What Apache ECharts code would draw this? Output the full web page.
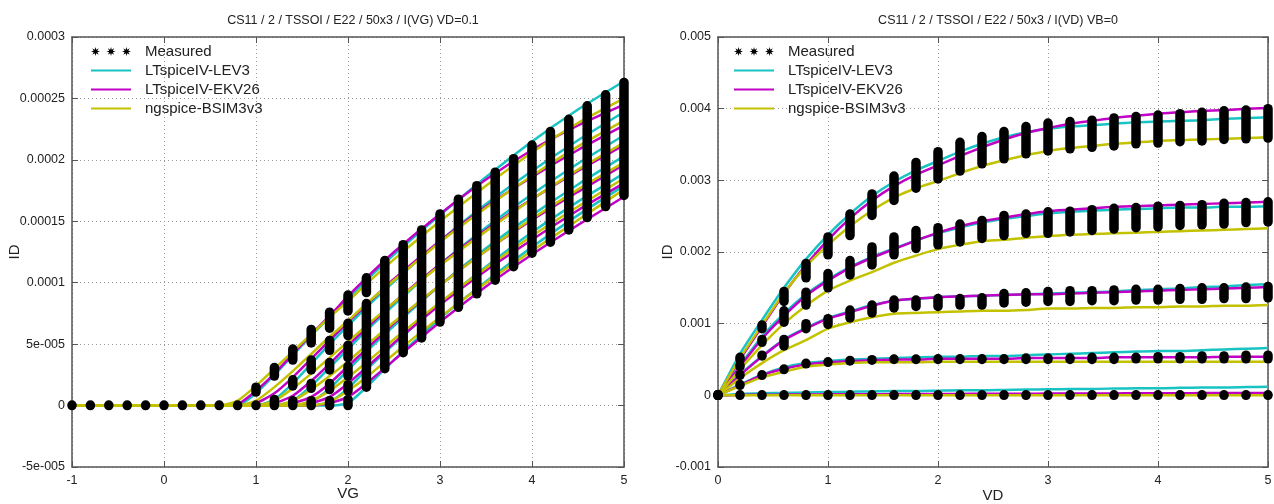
<!DOCTYPE html>
<html>
<head>
<meta charset="utf-8">
<script src="https://cdn.jsdelivr.net/npm/echarts@6/dist/echarts.min.js"></script>
<style>
html,body{margin:0;padding:0;background:#fff;}
#chart{width:1274px;height:504px;}
</style>
</head>
<body>
<div id="chart"></div>
<script>
// ---------------- DATA ----------------
const leftTitle = 'CS11 / 2 / TSSOI / E22 / 50x3 / I(VG) VD=0.1';
const rightTitle = 'CS11 / 2 / TSSOI / E22 / 50x3 / I(VD) VB=0';
const legendNames = ['Measured', 'LTspiceIV-LEV3', 'LTspiceIV-EKV26', 'ngspice-BSIM3v3'];

const leftYTicks = ['-5e-005', '0', '5e-005', '0.0001', '0.00015', '0.0002', '0.00025', '0.0003'];
const leftXTicks = ['-1', '0', '1', '2', '3', '4', '5'];
const rightYTicks = ['-0.001', '0', '0.001', '0.002', '0.003', '0.004', '0.005'];
const rightXTicks = ['0', '1', '2', '3', '4', '5'];

// Left chart: ID vs VG, model curves (6 body-bias steps per model)
const leftVG = [-1, 0.6, 0.8, 1.0, 1.2, 1.4, 1.6, 1.8, 2.0, 2.2, 2.5, 3.0, 3.5, 4.0, 4.5, 5.0];
const lev3VG = [
  [0, 0, 0, 1.0e-5, 2.5e-5, 4.1e-5, 5.7e-5, 7.2e-5, 8.7e-5, 1.02e-4, 1.23e-4, 1.55e-4, 1.86e-4, 2.15e-4, 2.41e-4, 2.64e-4],
  [0, 0, 0, 0, 0.5e-5, 1.8e-5, 3.4e-5, 5.0e-5, 6.5e-5, 8.0e-5, 1.01e-4, 1.34e-4, 1.64e-4, 1.91e-4, 2.16e-4, 2.39e-4],
  [0, 0, 0, 0, 0, 0.4e-5, 1.6e-5, 3.1e-5, 4.6e-5, 6.1e-5, 8.2e-5, 1.15e-4, 1.45e-4, 1.72e-4, 1.97e-4, 2.20e-4],
  [0, 0, 0, 0, 0, 0, 0.3e-5, 1.4e-5, 2.9e-5, 4.4e-5, 6.5e-5, 9.8e-5, 1.28e-4, 1.55e-4, 1.80e-4, 2.03e-4],
  [0, 0, 0, 0, 0, 0, 0, 0.3e-5, 1.4e-5, 2.9e-5, 5.0e-5, 8.3e-5, 1.13e-4, 1.41e-4, 1.66e-4, 1.89e-4],
  [0, 0, 0, 0, 0, 0, 0, 0, 0.2e-5, 1.5e-5, 3.7e-5, 7.1e-5, 1.01e-4, 1.29e-4, 1.55e-4, 1.79e-4]
];
const ekv26VG = [
  [0, 0, 0.1e-5, 1.2e-5, 2.6e-5, 4.2e-5, 5.8e-5, 7.3e-5, 8.9e-5, 1.04e-4, 1.25e-4, 1.56e-4, 1.84e-4, 2.08e-4, 2.28e-4, 2.45e-4],
  [0, 0, 0, 0.2e-5, 1.0e-5, 2.3e-5, 3.8e-5, 5.3e-5, 6.8e-5, 8.2e-5, 1.03e-4, 1.34e-4, 1.62e-4, 1.86e-4, 2.08e-4, 2.28e-4],
  [0, 0, 0, 0, 0.2e-5, 0.8e-5, 2.0e-5, 3.4e-5, 4.9e-5, 6.3e-5, 8.4e-5, 1.15e-4, 1.43e-4, 1.68e-4, 1.91e-4, 2.12e-4],
  [0, 0, 0, 0, 0, 0.2e-5, 0.7e-5, 1.8e-5, 3.2e-5, 4.6e-5, 6.7e-5, 9.8e-5, 1.26e-4, 1.51e-4, 1.74e-4, 1.96e-4],
  [0, 0, 0, 0, 0, 0, 0.2e-5, 0.7e-5, 1.8e-5, 3.1e-5, 5.1e-5, 8.2e-5, 1.10e-4, 1.35e-4, 1.59e-4, 1.81e-4],
  [0, 0, 0, 0, 0, 0, 0, 0.2e-5, 0.7e-5, 1.8e-5, 3.7e-5, 6.8e-5, 9.7e-5, 1.23e-4, 1.47e-4, 1.70e-4]
];
const bsim3VG = [
  [0, 0, 0.4e-5, 1.6e-5, 3.0e-5, 4.4e-5, 5.8e-5, 7.2e-5, 8.5e-5, 9.9e-5, 1.19e-4, 1.50e-4, 1.79e-4, 2.06e-4, 2.30e-4, 2.50e-4],
  [0, 0, 0, 0.4e-5, 1.5e-5, 2.8e-5, 4.2e-5, 5.6e-5, 6.9e-5, 8.3e-5, 1.02e-4, 1.33e-4, 1.61e-4, 1.87e-4, 2.11e-4, 2.32e-4],
  [0, 0, 0, 0, 0.4e-5, 1.4e-5, 2.6e-5, 3.9e-5, 5.2e-5, 6.5e-5, 8.4e-5, 1.14e-4, 1.42e-4, 1.68e-4, 1.92e-4, 2.14e-4],
  [0, 0, 0, 0, 0, 0.4e-5, 1.3e-5, 2.4e-5, 3.6e-5, 4.9e-5, 6.8e-5, 9.8e-5, 1.26e-4, 1.52e-4, 1.76e-4, 1.98e-4],
  [0, 0, 0, 0, 0, 0, 0.4e-5, 1.2e-5, 2.3e-5, 3.5e-5, 5.4e-5, 8.4e-5, 1.12e-4, 1.38e-4, 1.62e-4, 1.85e-4],
  [0, 0, 0, 0, 0, 0, 0, 0.3e-5, 1.2e-5, 2.3e-5, 4.2e-5, 7.2e-5, 1.00e-4, 1.26e-4, 1.51e-4, 1.76e-4]
];
// Left chart measured: [VG, low, high] clusters of measured points
const leftMeasured = [
  [-1.0, 0, 0], [-0.8, 0, 0], [-0.6, 0, 0], [-0.4, 0, 0], [-0.2, 0, 0],
  [0.0, 0, 0], [0.2, 0, 0], [0.4, 0, 0], [0.6, 0, 0], [0.8, 0, 0],
  [1.0, 0, 0], [1.0, 1.1e-5, 1.5e-5],
  [1.2, 0, 0.5e-5], [1.2, 2.4e-5, 3.1e-5],
  [1.4, 0, 0.4e-5], [1.4, 1.6e-5, 2.1e-5], [1.4, 3.7e-5, 4.6e-5],
  [1.6, 0, 0.4e-5], [1.6, 1.4e-5, 1.8e-5], [1.6, 2.9e-5, 3.7e-5], [1.6, 5.1e-5, 6.2e-5],
  [1.8, 0, 0.4e-5], [1.8, 1.3e-5, 1.8e-5], [1.8, 2.9e-5, 3.5e-5], [1.8, 4.5e-5, 5.3e-5], [1.8, 6.3e-5, 7.6e-5],
  [2.0, 0, 0.5e-5], [2.0, 1.2e-5, 1.7e-5], [2.0, 2.4e-5, 3.2e-5], [2.0, 3.9e-5, 4.9e-5], [2.0, 5.7e-5, 6.7e-5], [2.0, 7.7e-5, 9.0e-5],
  [2.2, 1.5e-5, 8.3e-5], [2.2, 9.2e-5, 1.04e-4],
  [2.4, 3.0e-5, 1.18e-4], [2.6, 4.3e-5, 1.31e-4], [2.8, 5.5e-5, 1.43e-4], [3.0, 6.8e-5, 1.56e-4],
  [3.2, 8.0e-5, 1.68e-4], [3.4, 9.1e-5, 1.79e-4], [3.6, 1.02e-4, 1.90e-4], [3.8, 1.13e-4, 2.01e-4],
  [4.0, 1.24e-4, 2.12e-4], [4.2, 1.33e-4, 2.23e-4], [4.4, 1.43e-4, 2.33e-4], [4.6, 1.53e-4, 2.44e-4],
  [4.8, 1.62e-4, 2.53e-4], [5.0, 1.71e-4, 2.63e-4]
];

// Right chart: ID vs VD, 5 gate-voltage steps (top ... bottom)
const rightVD = [0, 0.2, 0.4, 0.6, 0.8, 1.0, 1.2, 1.4, 1.6, 1.8, 2.0, 2.2, 2.4, 2.6, 2.8, 3.0, 3.2, 3.4, 3.6, 3.8, 4.0, 4.2, 4.4, 4.6, 4.8, 5.0];
const lev3VD = [
  [0, 0.58e-3, 1.05e-3, 1.50e-3, 1.90e-3, 2.24e-3, 2.53e-3, 2.78e-3, 2.98e-3, 3.14e-3, 3.27e-3, 3.40e-3, 3.51e-3, 3.60e-3, 3.67e-3, 3.72e-3, 3.75e-3, 3.77e-3, 3.79e-3, 3.81e-3, 3.82e-3, 3.83e-3, 3.84e-3, 3.86e-3, 3.87e-3, 3.88e-3],
  [0, 0.42e-3, 0.82e-3, 1.14e-3, 1.41e-3, 1.62e-3, 1.79e-3, 1.93e-3, 2.05e-3, 2.16e-3, 2.26e-3, 2.34e-3, 2.41e-3, 2.46e-3, 2.50e-3, 2.54e-3, 2.56e-3, 2.58e-3, 2.59e-3, 2.60e-3, 2.61e-3, 2.62e-3, 2.62e-3, 2.63e-3, 2.63e-3, 2.64e-3],
  [0, 0.29e-3, 0.55e-3, 0.78e-3, 0.94e-3, 1.08e-3, 1.17e-3, 1.26e-3, 1.32e-3, 1.35e-3, 1.37e-3, 1.38e-3, 1.39e-3, 1.40e-3, 1.41e-3, 1.42e-3, 1.43e-3, 1.44e-3, 1.45e-3, 1.47e-3, 1.48e-3, 1.49e-3, 1.51e-3, 1.52e-3, 1.54e-3, 1.55e-3],
  [0, 0.15e-3, 0.29e-3, 0.39e-3, 0.45e-3, 0.48e-3, 0.50e-3, 0.51e-3, 0.52e-3, 0.53e-3, 0.54e-3, 0.54e-3, 0.55e-3, 0.55e-3, 0.56e-3, 0.57e-3, 0.58e-3, 0.59e-3, 0.60e-3, 0.61e-3, 0.62e-3, 0.62e-3, 0.63e-3, 0.64e-3, 0.65e-3, 0.66e-3],
  [0, 0.02e-3, 0.03e-3, 0.035e-3, 0.04e-3, 0.045e-3, 0.05e-3, 0.055e-3, 0.06e-3, 0.06e-3, 0.065e-3, 0.07e-3, 0.07e-3, 0.075e-3, 0.08e-3, 0.085e-3, 0.09e-3, 0.09e-3, 0.095e-3, 0.10e-3, 0.10e-3, 0.105e-3, 0.11e-3, 0.11e-3, 0.115e-3, 0.12e-3]
];
const ekv26VD = [
  [0, 0.50e-3, 0.96e-3, 1.42e-3, 1.82e-3, 2.17e-3, 2.47e-3, 2.72e-3, 2.92e-3, 3.08e-3, 3.21e-3, 3.34e-3, 3.46e-3, 3.57e-3, 3.66e-3, 3.73e-3, 3.79e-3, 3.83e-3, 3.87e-3, 3.90e-3, 3.93e-3, 3.95e-3, 3.97e-3, 3.98e-3, 4.00e-3, 4.01e-3],
  [0, 0.40e-3, 0.79e-3, 1.11e-3, 1.39e-3, 1.60e-3, 1.78e-3, 1.92e-3, 2.04e-3, 2.16e-3, 2.27e-3, 2.36e-3, 2.43e-3, 2.48e-3, 2.53e-3, 2.57e-3, 2.59e-3, 2.61e-3, 2.63e-3, 2.64e-3, 2.65e-3, 2.66e-3, 2.67e-3, 2.68e-3, 2.69e-3, 2.70e-3],
  [0, 0.28e-3, 0.54e-3, 0.77e-3, 0.93e-3, 1.07e-3, 1.16e-3, 1.25e-3, 1.32e-3, 1.35e-3, 1.37e-3, 1.38e-3, 1.39e-3, 1.40e-3, 1.41e-3, 1.41e-3, 1.42e-3, 1.43e-3, 1.44e-3, 1.45e-3, 1.46e-3, 1.47e-3, 1.48e-3, 1.49e-3, 1.50e-3, 1.51e-3],
  [0, 0.14e-3, 0.28e-3, 0.37e-3, 0.43e-3, 0.46e-3, 0.48e-3, 0.49e-3, 0.50e-3, 0.50e-3, 0.51e-3, 0.51e-3, 0.51e-3, 0.51e-3, 0.52e-3, 0.52e-3, 0.52e-3, 0.52e-3, 0.53e-3, 0.53e-3, 0.53e-3, 0.53e-3, 0.53e-3, 0.54e-3, 0.54e-3, 0.54e-3],
  [0, 0.005e-3, 0.008e-3, 0.01e-3, 0.012e-3, 0.014e-3, 0.015e-3, 0.016e-3, 0.017e-3, 0.018e-3, 0.019e-3, 0.02e-3, 0.021e-3, 0.022e-3, 0.023e-3, 0.024e-3, 0.025e-3, 0.026e-3, 0.027e-3, 0.028e-3, 0.029e-3, 0.03e-3, 0.031e-3, 0.032e-3, 0.033e-3, 0.034e-3]
];
const bsim3VD = [
  [0, 0.52e-3, 0.98e-3, 1.43e-3, 1.80e-3, 2.10e-3, 2.36e-3, 2.58e-3, 2.76e-3, 2.89e-3, 2.99e-3, 3.10e-3, 3.20e-3, 3.28e-3, 3.35e-3, 3.41e-3, 3.45e-3, 3.48e-3, 3.51e-3, 3.53e-3, 3.55e-3, 3.56e-3, 3.57e-3, 3.58e-3, 3.59e-3, 3.60e-3],
  [0, 0.36e-3, 0.70e-3, 1.00e-3, 1.25e-3, 1.46e-3, 1.60e-3, 1.72e-3, 1.85e-3, 1.95e-3, 2.04e-3, 2.10e-3, 2.15e-3, 2.17e-3, 2.20e-3, 2.22e-3, 2.24e-3, 2.25e-3, 2.26e-3, 2.27e-3, 2.28e-3, 2.29e-3, 2.30e-3, 2.31e-3, 2.32e-3, 2.33e-3],
  [0, 0.24e-3, 0.45e-3, 0.63e-3, 0.77e-3, 0.93e-3, 1.02e-3, 1.09e-3, 1.14e-3, 1.15e-3, 1.16e-3, 1.17e-3, 1.18e-3, 1.18e-3, 1.19e-3, 1.21e-3, 1.21e-3, 1.22e-3, 1.22e-3, 1.23e-3, 1.23e-3, 1.24e-3, 1.24e-3, 1.25e-3, 1.25e-3, 1.26e-3],
  [0, 0.13e-3, 0.25e-3, 0.33e-3, 0.40e-3, 0.43e-3, 0.45e-3, 0.46e-3, 0.46e-3, 0.46e-3, 0.47e-3, 0.47e-3, 0.47e-3, 0.47e-3, 0.47e-3, 0.47e-3, 0.47e-3, 0.47e-3, 0.47e-3, 0.47e-3, 0.47e-3, 0.47e-3, 0.47e-3, 0.47e-3, 0.47e-3, 0.47e-3],
  [0, 0, 0, 0, 0, 0, 0, 0, 0, 0, 0, 0, 0, 0, 0, 0, 0, 0, 0, 0, 0, 0, 0, 0, 0, 0]
];
// Right chart measured: low / high of each cluster of measured points per VD
const measLoVD = [
  [0, 0.50e-3, 0.93e-3, 1.31e-3, 1.64e-3, 1.96e-3, 2.23e-3, 2.51e-3, 2.72e-3, 2.89e-3, 3.02e-3, 3.13e-3, 3.23e-3, 3.30e-3, 3.37e-3, 3.41e-3, 3.44e-3, 3.46e-3, 3.48e-3, 3.51e-3, 3.52e-3, 3.54e-3, 3.55e-3, 3.57e-3, 3.58e-3, 3.59e-3],
  [0, 0.40e-3, 0.74e-3, 1.02e-3, 1.26e-3, 1.50e-3, 1.68e-3, 1.82e-3, 1.96e-3, 2.05e-3, 2.10e-3, 2.14e-3, 2.19e-3, 2.23e-3, 2.26e-3, 2.26e-3, 2.28e-3, 2.30e-3, 2.32e-3, 2.34e-3, 2.35e-3, 2.37e-3, 2.38e-3, 2.39e-3, 2.41e-3, 2.42e-3],
  [0, 0.28e-3, 0.55e-3, 0.69e-3, 0.93e-3, 0.99e-3, 1.08e-3, 1.15e-3, 1.22e-3, 1.24e-3, 1.24e-3, 1.26e-3, 1.26e-3, 1.29e-3, 1.30e-3, 1.31e-3, 1.31e-3, 1.32e-3, 1.32e-3, 1.33e-3, 1.33e-3, 1.34e-3, 1.34e-3, 1.35e-3, 1.35e-3, 1.36e-3],
  [0, 0.14e-3, 0.28e-3, 0.36e-3, 0.44e-3, 0.46e-3, 0.48e-3, 0.49e-3, 0.50e-3, 0.50e-3, 0.50e-3, 0.50e-3, 0.50e-3, 0.50e-3, 0.50e-3, 0.50e-3, 0.50e-3, 0.50e-3, 0.50e-3, 0.51e-3, 0.51e-3, 0.51e-3, 0.51e-3, 0.51e-3, 0.51e-3, 0.51e-3],
  [0, 0, 0, 0, 0, 0, 0, 0, 0, 0, 0, 0, 0, 0, 0, 0, 0, 0, 0, 0, 0, 0, 0, 0, 0, 0]
];
const measHiVD = [
  [0, 0.53e-3, 0.98e-3, 1.45e-3, 1.84e-3, 2.21e-3, 2.53e-3, 2.81e-3, 3.06e-3, 3.25e-3, 3.40e-3, 3.53e-3, 3.61e-3, 3.68e-3, 3.75e-3, 3.80e-3, 3.82e-3, 3.84e-3, 3.87e-3, 3.89e-3, 3.91e-3, 3.93e-3, 3.95e-3, 3.97e-3, 3.98e-3, 4.00e-3],
  [0, 0.42e-3, 0.78e-3, 1.18e-3, 1.44e-3, 1.70e-3, 1.88e-3, 2.07e-3, 2.21e-3, 2.30e-3, 2.34e-3, 2.39e-3, 2.44e-3, 2.51e-3, 2.53e-3, 2.56e-3, 2.57e-3, 2.59e-3, 2.61e-3, 2.62e-3, 2.64e-3, 2.65e-3, 2.66e-3, 2.68e-3, 2.69e-3, 2.70e-3],
  [0, 0.29e-3, 0.56e-3, 0.78e-3, 1.00e-3, 1.07e-3, 1.19e-3, 1.26e-3, 1.33e-3, 1.33e-3, 1.35e-3, 1.35e-3, 1.36e-3, 1.42e-3, 1.43e-3, 1.45e-3, 1.46e-3, 1.46e-3, 1.47e-3, 1.48e-3, 1.48e-3, 1.49e-3, 1.50e-3, 1.50e-3, 1.51e-3, 1.52e-3],
  [0, 0.15e-3, 0.28e-3, 0.36e-3, 0.44e-3, 0.46e-3, 0.48e-3, 0.49e-3, 0.50e-3, 0.50e-3, 0.51e-3, 0.51e-3, 0.51e-3, 0.51e-3, 0.52e-3, 0.52e-3, 0.52e-3, 0.53e-3, 0.53e-3, 0.53e-3, 0.54e-3, 0.54e-3, 0.55e-3, 0.55e-3, 0.56e-3, 0.56e-3],
  [0, 0, 0, 0, 0, 0, 0, 0, 0, 0, 0, 0, 0, 0, 0, 0, 0, 0, 0, 0, 0, 0, 0, 0, 0, 0]
];

// ---------------- STYLE / BUILD ----------------
const FONT = '"Liberation Sans", Arial, sans-serif';
const COLORS = { lev3: '#19c3c3', ekv: '#c000c4', bsim: '#c2c200' };
const FRAME = '#555';

function starPoly(cx, cy, R, r) {
  let s = '';
  for (let k = 0; k < 16; k++) {
    const a = k * Math.PI / 8;
    const rad = (k % 2 === 0) ? R : r;
    s += (k === 0 ? 'M' : 'L') + (cx + rad * Math.cos(a)).toFixed(2) + ',' + (cy + rad * Math.sin(a)).toFixed(2);
  }
  return s + 'Z';
}
const measuredIcon = 'path://' + starPoly(4.5, 4.5, 4.5, 2) + starPoly(20, 4.5, 4.5, 2) + starPoly(35.5, 4.5, 4.5, 2);

function lineSeries(name, color, xs, ys, xi, yi) {
  return {
    type: 'line', name: name, xAxisIndex: xi, yAxisIndex: yi,
    data: xs.map((x, i) => [x, ys[i]]),
    symbol: 'none', smooth: 0.2, z: 2, silent: true,
    lineStyle: { color: color, width: 2.5 }, itemStyle: { color: color },
    animation: false
  };
}

function capsule(params, api) {
  const x = api.value(0), lo = api.value(1), hi = api.value(2);
  const p1 = api.coord([x, lo]);
  const p2 = api.coord([x, hi]);
  let y2 = p2[1];
  if (Math.abs(p1[1] - y2) < 0.5) y2 = p1[1] - 0.5;
  return {
    type: 'line',
    shape: { x1: p1[0], y1: p1[1], x2: p2[0], y2: y2 },
    style: { stroke: '#000', lineWidth: 9.5, lineCap: 'round' }
  };
}

const rightMeasured = [];
measLoVD.forEach((lows, g) => {
  lows.forEach((lo, i) => rightMeasured.push([rightVD[i], lo, measHiVD[g][i]]));
});

const series = [];
[[lev3VG, COLORS.lev3, legendNames[1]], [ekv26VG, COLORS.ekv, legendNames[2]], [bsim3VG, COLORS.bsim, legendNames[3]]]
  .forEach(([set, color, name]) => set.forEach(ys => series.push(lineSeries(name, color, leftVG, ys, 0, 0))));
[[lev3VD, COLORS.lev3, legendNames[1]], [ekv26VD, COLORS.ekv, legendNames[2]], [bsim3VD, COLORS.bsim, legendNames[3]]]
  .forEach(([set, color, name]) => set.forEach(ys => series.push(lineSeries(name, color, rightVD, ys, 2, 2))));
series.unshift({
  type: 'custom', name: legendNames[0], xAxisIndex: 0, yAxisIndex: 0, z: 5,
  data: leftMeasured, encode: { x: 0, y: [1, 2] }, renderItem: capsule,
  itemStyle: { color: '#000' }, animation: false, silent: true
});
series.unshift({
  type: 'custom', name: legendNames[0], xAxisIndex: 2, yAxisIndex: 2, z: 5,
  data: rightMeasured, encode: { x: 0, y: [1, 2] }, renderItem: capsule,
  itemStyle: { color: '#000' }, animation: false, silent: true
});

const tickFmt = (labels, min, step) => v => labels[Math.round((v - min) / step)];

function mainX(grid, min, max, labels, name, nameGap) {
  return {
    type: 'value', gridIndex: grid, min: min, max: max, interval: 1, position: 'bottom',
    name: name, nameLocation: 'middle', nameGap: nameGap, nameMoveOverlap: false,
    nameTextStyle: { fontFamily: FONT, fontSize: 15, color: '#222' },
    axisLine: { show: true, onZero: false, lineStyle: { color: FRAME, width: 1.5 } },
    axisTick: { show: true, inside: true, length: 6, lineStyle: { color: FRAME } },
    axisLabel: { fontFamily: FONT, fontSize: 12.5, color: '#222', margin: 7, formatter: tickFmt(labels, min, 1) },
    splitLine: { show: true, lineStyle: { color: '#999', type: [1, 3], width: 1 } }
  };
}
function mirrorX(grid, min, max) {
  return {
    type: 'value', gridIndex: grid, min: min, max: max, interval: 1, position: 'top',
    axisLine: { show: true, onZero: false, lineStyle: { color: FRAME, width: 1.5 } },
    axisTick: { show: true, inside: true, length: 6, lineStyle: { color: FRAME } },
    axisLabel: { show: false }, splitLine: { show: false }
  };
}
function mainY(grid, min, max, step, labels, nameGap) {
  return {
    type: 'value', gridIndex: grid, min: min, max: max, interval: step, position: 'left',
    name: 'ID', nameLocation: 'middle', nameGap: nameGap, nameRotate: 90, nameMoveOverlap: false,
    nameTextStyle: { fontFamily: FONT, fontSize: 15, color: '#222' },
    axisLine: { show: true, onZero: false, lineStyle: { color: FRAME, width: 1.5 } },
    axisTick: { show: true, inside: true, length: 6, lineStyle: { color: FRAME } },
    axisLabel: { fontFamily: FONT, fontSize: 12.5, color: '#222', margin: 7, formatter: tickFmt(labels, min, step) },
    splitLine: { show: true, lineStyle: { color: '#999', type: [1, 3], width: 1 } }
  };
}
function mirrorY(grid, min, max, step) {
  return {
    type: 'value', gridIndex: grid, min: min, max: max, interval: step, position: 'right',
    axisLine: { show: true, onZero: false, lineStyle: { color: FRAME, width: 1.5 } },
    axisTick: { show: true, inside: true, length: 6, lineStyle: { color: FRAME } },
    axisLabel: { show: false }, splitLine: { show: false }
  };
}

function legendAt(left) {
  return {
    left: left, top: 43, padding: 0, orient: 'vertical', selectedMode: false,
    itemWidth: 40, itemHeight: 9, itemGap: 2,
    textStyle: { fontFamily: FONT, fontSize: 15, color: '#222', lineHeight: 17, padding: [0, 0, 0, 9] },
    data: [
      { name: legendNames[0], icon: measuredIcon, itemStyle: { color: '#000' } },
      { name: legendNames[1], itemStyle: { opacity: 0 } },
      { name: legendNames[2], itemStyle: { opacity: 0 } },
      { name: legendNames[3], itemStyle: { opacity: 0 } }
    ]
  };
}

const option = {
  backgroundColor: '#fff',
  animation: false,
  title: [
    { text: leftTitle, left: 348, top: 9, textAlign: 'center',
      textStyle: { fontFamily: FONT, fontSize: 12.5, fontWeight: 'normal', color: '#222' } },
    { text: rightTitle, left: 993, top: 9, textAlign: 'center',
      textStyle: { fontFamily: FONT, fontSize: 12.5, fontWeight: 'normal', color: '#222' } }
  ],
  legend: [legendAt(90), legendAt(733)],
  grid: [
    { left: 72, top: 37, width: 552, height: 430, outerBoundsMode: 'none', containLabel: false },
    { left: 718, top: 37, width: 550, height: 430, outerBoundsMode: 'none', containLabel: false }
  ],
  xAxis: [
    mainX(0, -1, 5, leftXTicks, 'VG', 19), mirrorX(0, -1, 5),
    mainX(1, 0, 5, rightXTicks, 'VD', 21), mirrorX(1, 0, 5)
  ],
  yAxis: [
    mainY(0, -5e-5, 3e-4, 5e-5, leftYTicks, 50), mirrorY(0, -5e-5, 3e-4, 5e-5),
    mainY(1, -0.001, 0.005, 0.001, rightYTicks, 43), mirrorY(1, -0.001, 0.005, 0.001)
  ],
  series: series
};

const chart = echarts.init(document.getElementById('chart'), null, { renderer: 'canvas' });
chart.setOption(option);
</script>
</body>
</html>
